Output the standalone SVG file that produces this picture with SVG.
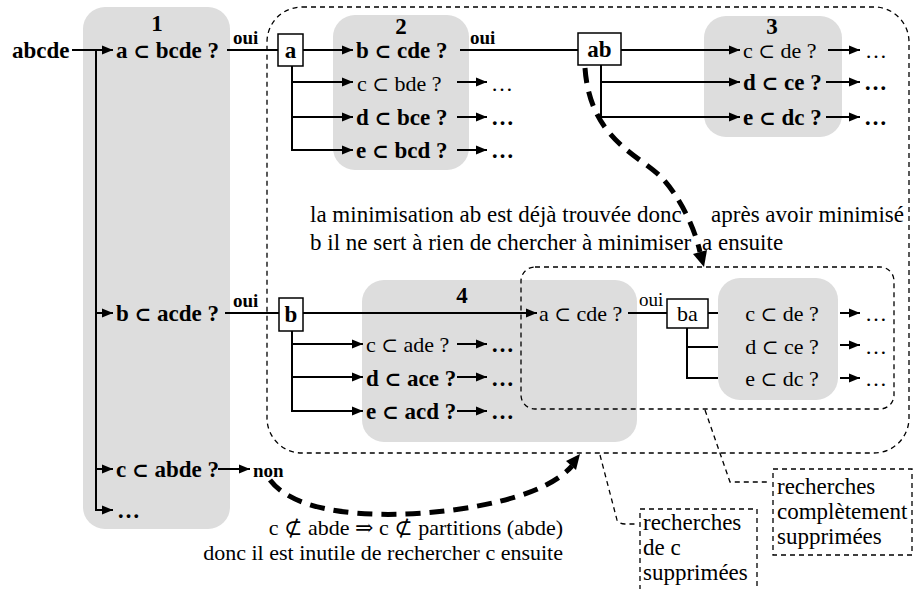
<svg xmlns="http://www.w3.org/2000/svg" width="913" height="589" viewBox="0 0 913 589">
<style>
.g{fill:#dddddd;stroke:none}
.t{font-family:"Liberation Serif","DejaVu Serif",serif;font-size:22px;fill:#000}
.b{font-weight:bold;font-size:23px}
.s{font-size:19px}
.n23{font-size:23px}
.lb{font-size:23px}
.op{font-size:20px}
.ln{fill:none;stroke:#000;stroke-width:2}
.bx{fill:#fff;stroke:#000;stroke-width:1.5}
.dz{fill:none;stroke:#000;stroke-width:1.3;stroke-dasharray:5 4}
.th{fill:none;stroke:#000;stroke-width:5;stroke-dasharray:15 9}
</style>
<defs>
<marker id="ar" markerUnits="userSpaceOnUse" markerWidth="11" markerHeight="10" refX="11" refY="5" orient="auto">
<path d="M0,0.5 L11,5 L0,9.5 z" fill="#000"/>
</marker>
</defs>

<g id="box1">
<rect class="g" x="83" y="7" width="147" height="522" rx="22"/>
<text class="t b" x="157" y="31" text-anchor="middle">1</text>
</g>
<g id="box2">
<rect class="g" x="333" y="15" width="136" height="155" rx="22"/>
<text class="t b" x="401" y="34" text-anchor="middle">2</text>
</g>
<g id="box3">
<rect class="g" x="704" y="16" width="138" height="121" rx="22"/>
<text class="t b" x="772" y="34" text-anchor="middle">3</text>
</g>
<g id="box4">
<rect class="g" x="362" y="280" width="275" height="162" rx="22"/>
<text class="t b" x="462" y="303" text-anchor="middle">4</text>
</g>
<g id="box5">
<rect class="g" x="718" y="278" width="120" height="122" rx="22"/>
</g>

<g id="regions">
<rect class="dz" x="267" y="7" width="642" height="446" rx="35"/>
<rect class="dz" x="521" y="267" width="373" height="142" rx="14"/>
</g>

<g id="connectors">
<path class="ln" d="M72,50 H113" marker-end="url(#ar)"/>
<path class="ln" d="M96,50 V510 H113" marker-end="url(#ar)"/>
<path class="ln" d="M96,313 H113" marker-end="url(#ar)"/>
<path class="ln" d="M96,469 H113" marker-end="url(#ar)"/>
<path class="ln" d="M227,50 H278"/>
<path class="ln" d="M303,50 H353" marker-end="url(#ar)"/>
<path class="ln" d="M292,66 V150 H353" marker-end="url(#ar)"/>
<path class="ln" d="M292,82 H353" marker-end="url(#ar)"/>
<path class="ln" d="M292,117 H353" marker-end="url(#ar)"/>
<path class="ln" d="M457,82 H487" marker-end="url(#ar)"/>
<path class="ln" d="M457,117 H487" marker-end="url(#ar)"/>
<path class="ln" d="M457,150 H487" marker-end="url(#ar)"/>
<path class="ln" d="M460,50 H578"/>
<path class="ln" d="M621,50 H740" marker-end="url(#ar)"/>
<path class="ln" d="M601,65 V117 H740" marker-end="url(#ar)"/>
<path class="ln" d="M601,82 H740" marker-end="url(#ar)"/>
<path class="ln" d="M828,50 H860" marker-end="url(#ar)"/>
<path class="ln" d="M826,82 H860" marker-end="url(#ar)"/>
<path class="ln" d="M826,117 H860" marker-end="url(#ar)"/>
<path class="ln" d="M225,313 H279"/>
<path class="ln" d="M303,313 H537" marker-end="url(#ar)"/>
<path class="ln" d="M292,331 V411 H363" marker-end="url(#ar)"/>
<path class="ln" d="M292,344 H363" marker-end="url(#ar)"/>
<path class="ln" d="M292,377 H363" marker-end="url(#ar)"/>
<path class="ln" d="M457,344 H487" marker-end="url(#ar)"/>
<path class="ln" d="M457,377 H487" marker-end="url(#ar)"/>
<path class="ln" d="M457,411 H487" marker-end="url(#ar)"/>
<path class="ln" d="M628,313 H667"/>
<path class="ln" d="M708,313 H718"/>
<path class="ln" d="M687,328 V378 H718"/>
<path class="ln" d="M687,347 H718"/>
<path class="ln" d="M840,313 H860" marker-end="url(#ar)"/>
<path class="ln" d="M840,345 H860" marker-end="url(#ar)"/>
<path class="ln" d="M840,378 H860" marker-end="url(#ar)"/>
<path class="ln" d="M218,469 H250" marker-end="url(#ar)"/>
<path class="th" d="M585,68 C590,140 640,155 662,178 C678,195 694,225 700,252"/>
<polygon points="704,267 693,254 707,250" fill="#000"/>
<path class="th" d="M270,480 C300,520 400,518 460,509 C520,500 555,485 572,466"/>
<polygon points="580,454 566,461 576,470" fill="#000"/>
<path class="dz" d="M705,410 L730,482 L770,482"/>
<path class="dz" d="M600,455 L617,520 Q619,524 625,524 L637,524"/>
</g>

<g id="n-abcde"><text class="t b" x="12" y="58">abcde</text></g>
<g id="n-a-bcde"><text class="t b" x="116" y="58">a <tspan class="op">⊂</tspan> bcde ?</text></g>
<g id="n-b-acde"><text class="t b" x="116" y="321">b <tspan class="op">⊂</tspan> acde ?</text></g>
<g id="n-c-abde"><text class="t b" x="116" y="477">c <tspan class="op">⊂</tspan> abde ?</text></g>
<g id="n-dots1"><text class="t b" x="117" y="518">…</text></g>
<g id="n-non"><text class="t b s" x="253" y="477">non</text></g>
<g id="oui1"><text class="t b s" x="233" y="44">oui</text></g>
<g id="oui2"><text class="t b s" x="470" y="44">oui</text></g>
<g id="oui3"><text class="t b s" x="233" y="307">oui</text></g>
<g id="oui4"><text class="t s" x="639" y="306">oui</text></g>

<g id="n-a"><rect class="bx" x="278" y="34" width="25" height="32"/><text class="t b" x="290.5" y="58" text-anchor="middle">a</text></g>
<g id="n-ab"><rect class="bx" x="578" y="33" width="43" height="32"/><text class="t b" x="599.5" y="57" text-anchor="middle">ab</text></g>
<g id="n-b"><rect class="bx" x="279" y="298" width="24" height="33"/><text class="t b" x="291" y="322" text-anchor="middle">b</text></g>
<g id="n-ba"><rect class="bx" x="667" y="299" width="41" height="29"/><text class="t" x="687.5" y="321" text-anchor="middle">ba</text></g>

<g id="row2">
<text class="t b" x="356" y="58">b <tspan class="op">⊂</tspan> cde ?</text>
<text class="t" x="357" y="91">c <tspan class="op">⊂</tspan> bde ?</text>
<text class="t" x="491" y="91">…</text>
<text class="t b" x="356" y="125">d <tspan class="op">⊂</tspan> bce ?</text>
<text class="t b" x="491" y="125">…</text>
<text class="t b" x="356" y="158">e <tspan class="op">⊂</tspan> bcd ?</text>
<text class="t b" x="491" y="158">…</text>
</g>
<g id="row3">
<text class="t" x="743" y="58">c <tspan class="op">⊂</tspan> de ?</text>
<text class="t" x="865" y="58">…</text>
<text class="t b" x="743" y="90">d <tspan class="op">⊂</tspan> ce ?</text>
<text class="t b" x="864" y="90">…</text>
<text class="t b" x="743" y="125">e <tspan class="op">⊂</tspan> dc ?</text>
<text class="t b" x="864" y="125">…</text>
</g>
<g id="row4">
<text class="t" x="366" y="352">c <tspan class="op">⊂</tspan> ade ?</text>
<text class="t b" x="491" y="352">…</text>
<text class="t b" x="366" y="386">d <tspan class="op">⊂</tspan> ace ?</text>
<text class="t b" x="491" y="386">…</text>
<text class="t b" x="366" y="419">e <tspan class="op">⊂</tspan> acd ?</text>
<text class="t b" x="491" y="419">…</text>
<text class="t" x="539" y="321">a <tspan class="op">⊂</tspan> cde ?</text>
</g>
<g id="row5">
<text class="t" x="782" y="321" text-anchor="middle">c <tspan class="op">⊂</tspan> de ?</text>
<text class="t" x="865" y="321">…</text>
<text class="t" x="782" y="354" text-anchor="middle">d <tspan class="op">⊂</tspan> ce ?</text>
<text class="t" x="865" y="354">…</text>
<text class="t" x="782" y="386" text-anchor="middle">e <tspan class="op">⊂</tspan> dc ?</text>
<text class="t" x="865" y="386">…</text>
</g>

<g id="note1">
<text class="t n23" x="310" y="222">la minimisation ab est déjà trouvée donc</text>
<text class="t n23" x="904" y="222" text-anchor="end">après avoir minimisé</text>
<text class="t n23" x="310" y="250">b il ne sert à rien de chercher à minimiser</text>
<text class="t n23" x="702" y="250">a ensuite</text>
</g>
<g id="note2">
<text class="t" x="563" y="535" text-anchor="end">c ⊄ abde ⇒ c ⊄ partitions (abde)</text>
<text class="t" x="563" y="560" text-anchor="end">donc il est inutile de rechercher c ensuite</text>
</g>
<g id="label-complet">
<rect class="dz" x="773" y="469" width="139" height="86"/>
<text class="t lb" x="777" y="494">recherches</text>
<text class="t lb" x="777" y="519">complètement</text>
<text class="t lb" x="777" y="544">supprimées</text>
</g>
<g id="label-c">
<rect class="dz" x="640" y="509" width="117" height="90"/>
<text class="t lb" x="643" y="530">recherches</text>
<text class="t lb" x="643" y="555">de c</text>
<text class="t lb" x="643" y="580">supprimées</text>
</g>
</svg>
